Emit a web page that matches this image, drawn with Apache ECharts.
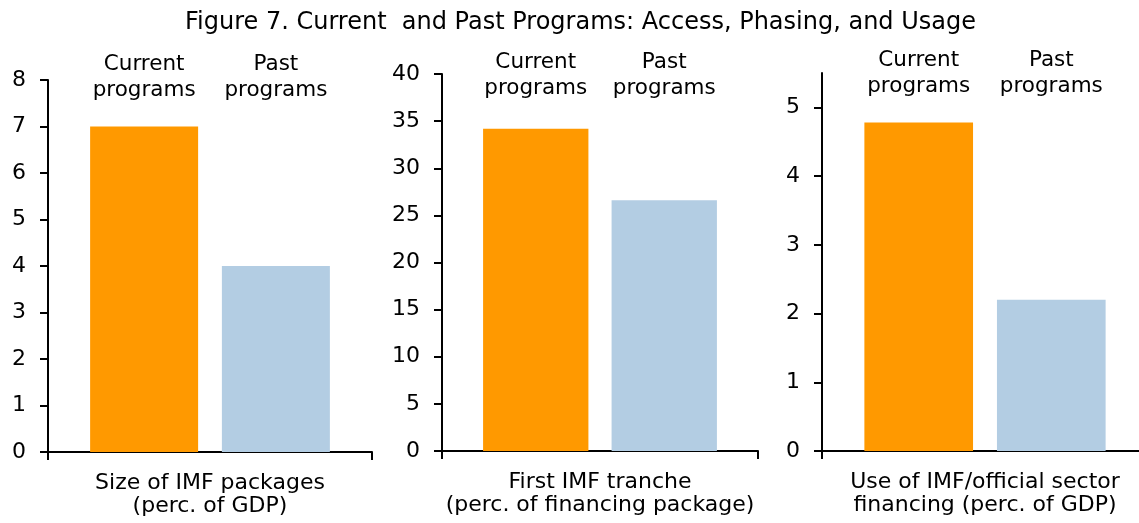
<!DOCTYPE html>
<html>
<head>
<meta charset="utf-8">
<script src="https://cdn.jsdelivr.net/npm/echarts@6/dist/echarts.min.js"></script>
<style>
  html, body { margin: 0; padding: 0; background: #fff; }
  #chart { width: 1139px; height: 523px; }
</style>
</head>
<body>
<div id="chart"></div>
<script>
const titleText = 'Figure 7. Current  and Past Programs: Access, Phasing, and Usage';
const seriesNames = ['Current\nprograms', 'Past\nprograms'];
const categories = [
  'Size of IMF packages\n(perc. of GDP)',
  'First IMF tranche\n(perc. of financing package)',
  'Use of IMF/official sector\nfinancing (perc. of GDP)'
];
const currentValues = [7.0, 34.2, 4.78];
const pastValues = [4.0, 26.6, 2.2];
const yTicks1 = [0, 1, 2, 3, 4, 5, 6, 7, 8];
const yTicks2 = [0, 5, 10, 15, 20, 25, 30, 35, 40];
const yTicks3 = [0, 1, 2, 3, 4, 5];
const yMax = [8, 40, 5.5];
const yInterval = [1, 5, 1];

const FONT = 'DejaVu Sans';
const colors = ['#FF9900', '#B3CDE3'];
const grids = [
  { left: 48, top: 80, width: 324, height: 372 },
  { left: 442, top: 74, width: 316, height: 377 },
  { left: 822, top: 73, width: 326, height: 378 }
];
const labelOffsets = [-3, 1, 0];
const ticks = [yTicks1, yTicks2, yTicks3];

const xAxes = [], yAxes = [], series = [];
categories.forEach((cat, i) => {
  xAxes.push({
    type: 'category', gridIndex: i, data: [cat],
    boundaryGap: true,
    axisLine: { lineStyle: { color: '#000', width: 2 } },
    axisTick: { show: true, length: 8, lineStyle: { color: '#000', width: 2 } },
    axisLabel: { show: false },
    name: cat, nameLocation: 'middle', nameGap: 20,
    nameTextStyle: { fontFamily: FONT, fontSize: 22, color: '#000', lineHeight: 23 }
  });
  yAxes.push({
    type: 'value', gridIndex: i, min: 0, max: yMax[i], interval: yInterval[i],
    splitLine: { show: false },
    axisLine: { show: true, lineStyle: { color: '#000', width: 2 } },
    axisTick: { show: true, length: 8, customValues: ticks[i], lineStyle: { color: '#000', width: 2 } },
    axisLabel: { margin: 22, customValues: ticks[i], fontFamily: FONT, fontSize: 22, color: '#000' }
  });
  [currentValues, pastValues].forEach((vals, s) => {
    series.push({
      type: 'bar', name: seriesNames[s], xAxisIndex: i, yAxisIndex: i,
      data: [vals[i]],
      barGap: '22%', barCategoryGap: '26%',
      itemStyle: { color: colors[s] },
      silent: true,
      markPoint: {
        silent: true,
        symbol: 'circle', symbolSize: 1,
        itemStyle: { color: 'rgba(0,0,0,0)' },
        label: {
          show: true, position: 'inside', offset: [0, labelOffsets[i]],
          formatter: seriesNames[s],
          fontFamily: FONT, fontSize: 21.5, color: '#000', lineHeight: 26
        },
        data: [{ coord: [cat, yMax[i]] }]
      }
    });
  });
});

const chart = echarts.init(document.getElementById('chart'), null, { renderer: 'canvas' });
chart.setOption({
  animation: false,
  backgroundColor: '#fff',
  title: {
    text: titleText, left: 180, top: 6,
    textStyle: { fontFamily: FONT, fontSize: 24, fontWeight: 'normal', color: '#000' }
  },
  grid: grids.map(g => Object.assign({ containLabel: false, outerBoundsMode: 'none' }, g)),
  xAxis: xAxes,
  yAxis: yAxes,
  series: series
});
</script>
</body>
</html>
